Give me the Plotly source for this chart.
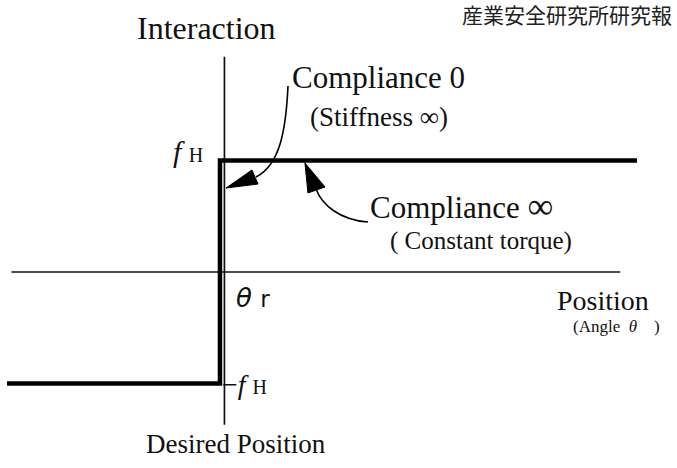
import plotly.graph_objects as go

# ---- data (normalised units: theta_r = 0, f_H = 1) ----
theta_r = 0.0
f_H = 1.0
step_x = [-1.91, theta_r, theta_r, 3.74]
step_y = [-f_H, -f_H, f_H, f_H]
haxis_x = [-1.87, 3.59]
haxis_y = [0.0, 0.0]
vaxis_x = [0.04, 0.04]
vaxis_y = [1.93, -1.37]

W, H = 677, 468
XR = [-1.973, 4.099]
YR = [-1.758, 2.4395]

fig = go.Figure()
fig.add_trace(go.Scatter(x=haxis_x, y=haxis_y, mode="lines",
                         line=dict(color="#111", width=1.5), hoverinfo="skip"))
fig.add_trace(go.Scatter(x=vaxis_x, y=vaxis_y, mode="lines",
                         line=dict(color="#111", width=1.7), hoverinfo="skip"))
fig.add_trace(go.Scatter(x=step_x, y=step_y, mode="lines",
                         line=dict(color="#000", width=4.5), hoverinfo="skip"))

def px(x, y):
    """pixel -> paper coordinates for label placement"""
    return x / W, 1 - y / H

serif = "Liberation Serif, Times New Roman, serif"
ann = []
def label(text, x, y, size, anchor="left", family=serif, color="#111"):
    X, Y = px(x, y)
    ann.append(dict(text=text, x=X, y=Y, xref="paper", yref="paper",
                    xanchor=anchor, yanchor="middle", showarrow=False,
                    font=dict(family=family, size=size, color=color)))

label("産業安全研究所研究報", 674, 14, 21, anchor="right",
      family="Noto Sans CJK JP", color="#222")
label("Interaction", 206, 28, 32, anchor="center")
label("Compliance 0", 290, 78, 31)
label("(Stiffness ∞)", 308, 117, 27)
label("<i>f</i> <span style='font-size:20px'>H</span>", 171, 152, 30)
label("Compliance <span style='font-size:36px'>∞</span>", 368, 206, 31)
label("( Constant torque)", 388, 241, 25)
label("<i>θ</i> <span style='font-family:DejaVu Sans;font-size:23px'>r</span>", 234, 298, 26,
      family="DejaVu Sans")
label("Position", 555, 300, 28)
label("(Angle&nbsp;&nbsp;<i>θ</i>&nbsp;&nbsp;&nbsp;&nbsp;)", 571, 326, 17)
label("−<i>f</i> <span style='font-size:20px'>H</span>", 220, 384, 28)
label("Desired Position", 236, 444, 27, anchor="center")

shapes = [
    # arrow 1 (Compliance 0 -> vertical segment)
    dict(type="path", xref="x", yref="y",
         path="M 0.610,1.668 C 0.592,1.274 0.538,0.960 0.323,0.852",
         line=dict(color="#000", width=1.6)),
    dict(type="path", xref="x", yref="y",
         path="M 0.054,0.753 L 0.287,0.915 L 0.341,0.789 Z",
         fillcolor="#000", line=dict(color="#000", width=1)),
    # arrow 2 (Compliance inf -> top segment)
    dict(type="path", xref="x", yref="y",
         path="M 1.327,0.448 C 1.076,0.466 0.915,0.601 0.861,0.744",
         line=dict(color="#000", width=1.6)),
    dict(type="path", xref="x", yref="y",
         path="M 0.762,0.978 L 0.789,0.709 L 0.942,0.762 Z",
         fillcolor="#000", line=dict(color="#000", width=1)),
]

fig.update_layout(
    width=W, height=H, margin=dict(l=0, r=0, t=0, b=0),
    paper_bgcolor="white", plot_bgcolor="white", showlegend=False,
    xaxis=dict(range=XR, visible=False, fixedrange=True),
    yaxis=dict(range=YR, visible=False, fixedrange=True),
    annotations=ann, shapes=shapes,
)
fig.write_html("out.html", config={"displayModeBar": False},
               post_script="document.body.style.margin='0';")
